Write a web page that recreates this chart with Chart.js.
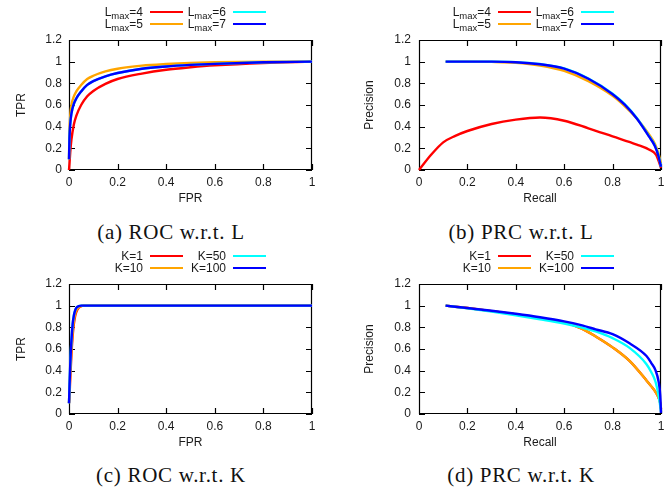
<!DOCTYPE html>
<html>
<head>
<meta charset="utf-8">
<script src="https://cdn.jsdelivr.net/npm/chart.js@4.4.1/dist/chart.umd.min.js"></script>
<style>
  body { margin: 0; background: #fff; }
  #fig { position: relative; width: 672px; height: 490px; overflow: hidden; font-family: "Liberation Sans", Arial, sans-serif; color: #1a1a1a; }
  canvas { position: absolute; }
  .key { position: absolute; font-size: 12px; line-height: 14px; white-space: nowrap; }
  .key sub { font-size: 9.5px; line-height: 0; vertical-align: -3px; }
  .swatch { position: absolute; height: 2px; width: 33px; }
  .cap { position: absolute; width: 336px; text-align: center; font-family: "Liberation Serif", serif; font-size: 21px; line-height: 24px; letter-spacing: 0.7px; color: #111; }
</style>
</head>
<body>
<div id="fig"></div>
<script>
// tick values shared by all four panels
const xTickValues = [0, 0.2, 0.4, 0.6, 0.8, 1];
const yTickValues = [0, 0.2, 0.4, 0.6, 0.8, 1, 1.2];

const seriesColors = ['#ff0000', '#ffa500', '#00ffff', '#0000ff'];
const lValues = [4, 5, 6, 7];
const kValues = [1, 10, 50, 100];

// (a) ROC w.r.t. L
const rocLFpr = [0, 0.002, 0.005, 0.01, 0.02, 0.03, 0.05, 0.075, 0.1, 0.15, 0.2, 0.3, 0.4, 0.5, 0.6, 0.8, 1];
const rocL4 = [0, 0.06, 0.16, 0.28, 0.42, 0.50, 0.60, 0.68, 0.73, 0.795, 0.84, 0.89, 0.925, 0.948, 0.966, 0.988, 1];
const rocL5 = [0.1, 0.36, 0.5, 0.6, 0.68, 0.725, 0.785, 0.84, 0.87, 0.91, 0.935, 0.963, 0.978, 0.988, 0.994, 0.999, 1];
const rocL6 = [0.1, 0.3, 0.42, 0.52, 0.61, 0.66, 0.725, 0.785, 0.82, 0.865, 0.895, 0.935, 0.956, 0.97, 0.98, 0.994, 1];
const rocL7 = [0.1, 0.3, 0.42, 0.52, 0.61, 0.66, 0.725, 0.785, 0.82, 0.865, 0.895, 0.935, 0.956, 0.97, 0.98, 0.994, 1];

// (b) PRC w.r.t. L
const prcL4Recall = [0, 0.05, 0.1, 0.15, 0.2, 0.3, 0.4, 0.5, 0.6, 0.7, 0.8, 0.9, 0.95, 0.98, 1];
const prcL4 = [0, 0.14, 0.255, 0.315, 0.36, 0.425, 0.465, 0.485, 0.455, 0.385, 0.31, 0.235, 0.19, 0.14, 0.02];
const prcLRecall = [0.11, 0.2, 0.3, 0.4, 0.5, 0.6, 0.7, 0.8, 0.85, 0.9, 0.95, 0.975, 0.99, 1];
const prcL5 = [1, 1, 0.998, 0.99, 0.965, 0.915, 0.82, 0.685, 0.59, 0.475, 0.33, 0.24, 0.15, 0.06];
const prcL6 = [1, 1, 1, 0.996, 0.978, 0.938, 0.845, 0.705, 0.608, 0.48, 0.315, 0.225, 0.13, 0.03];
const prcL7 = [1, 1, 1, 0.995, 0.976, 0.935, 0.842, 0.70, 0.603, 0.475, 0.31, 0.22, 0.125, 0.03];

// (c) ROC w.r.t. K
const rocKFpr = [0, 0.002, 0.005, 0.01, 0.015, 0.02, 0.025, 0.03, 0.04, 0.05, 0.06, 0.1, 0.5, 1];
const rocK1 = [0.1, 0.16, 0.32, 0.55, 0.72, 0.83, 0.9, 0.94, 0.98, 0.995, 1, 1, 1, 1];
const rocK10 = [0.1, 0.2, 0.38, 0.6, 0.76, 0.86, 0.92, 0.955, 0.985, 0.997, 1, 1, 1, 1];
const rocK50 = [0.1, 0.25, 0.45, 0.68, 0.83, 0.91, 0.955, 0.98, 0.995, 1, 1, 1, 1, 1];
const rocK100 = [0.1, 0.25, 0.45, 0.68, 0.83, 0.91, 0.955, 0.98, 0.995, 1, 1, 1, 1, 1];

// (d) PRC w.r.t. K
const prcKRecall = [0.11, 0.2, 0.3, 0.4, 0.5, 0.6, 0.67, 0.73, 0.8, 0.87, 0.94, 0.96, 0.977, 0.99, 0.997, 1];
const prcK1 = [1, 0.978, 0.95, 0.92, 0.885, 0.845, 0.79, 0.716, 0.615, 0.49, 0.31, 0.255, 0.205, 0.15, 0.1, 0.05];
const prcK10 = [1, 0.978, 0.95, 0.92, 0.885, 0.845, 0.79, 0.716, 0.615, 0.49, 0.31, 0.255, 0.205, 0.15, 0.1, 0.05];
const prcK50 = [1, 0.975, 0.945, 0.912, 0.875, 0.835, 0.80, 0.762, 0.70, 0.61, 0.46, 0.385, 0.30, 0.17, 0.07, 0.02];
const prcK100 = [1, 0.978, 0.953, 0.925, 0.893, 0.855, 0.82, 0.782, 0.737, 0.652, 0.535, 0.47, 0.405, 0.30, 0.17, 0.01];

Chart.defaults.font.family = '"Liberation Sans", Arial, sans-serif';
Chart.defaults.font.size = 12;
Chart.defaults.color = '#1a1a1a';

// gnuplot style box with inward ticks on all four sides
const frame = {
    id: 'frame',
    beforeDatasetsDraw(chart) {
        const { ctx, chartArea: a, scales } = chart;
        const tick = 6;
        ctx.save();
        ctx.strokeStyle = '#000';
        ctx.lineWidth = 1.2;
        ctx.beginPath();
        ctx.rect(a.left + 0.5, a.top + 0.5, a.right - a.left - 1, a.bottom - a.top - 1);
        xTickValues.forEach(v => {
            const px = Math.round(scales.x.getPixelForValue(v)) + 0.5;
            ctx.moveTo(px, a.bottom); ctx.lineTo(px, a.bottom - tick);
            ctx.moveTo(px, a.top); ctx.lineTo(px, a.top + tick);
        });
        yTickValues.forEach(v => {
            const py = Math.round(scales.y.getPixelForValue(v)) + 0.5;
            ctx.moveTo(a.left, py); ctx.lineTo(a.left + tick, py);
            ctx.moveTo(a.right, py); ctx.lineTo(a.right - tick, py);
        });
        ctx.stroke();
        ctx.restore();
    }
};

const tickText = v => String(Math.round(v * 10) / 10);

const panels = [
    { x: 0, y: 0, yW: 69, padR: 24, tickPad: 7, yTitlePad: 14, xTitle: 'FPR', yTitle: 'TPR', caption: '(a) ROC w.r.t. L', capX: 171, capY: 232,
      name: 'L', values: lValues, xs: [rocLFpr, rocLFpr, rocLFpr, rocLFpr], ys: [rocL4, rocL5, rocL6, rocL7] },
    { x: 336, y: 0, yW: 83, padR: 11, tickPad: 8, yTitlePad: 26, xTitle: 'Recall', yTitle: 'Precision', caption: '(b) PRC w.r.t. L', capX: 185, capY: 232,
      name: 'L', values: lValues, xs: [prcL4Recall, prcLRecall, prcLRecall, prcLRecall], ys: [prcL4, prcL5, prcL6, prcL7] },
    { x: 0, y: 244, yW: 69, padR: 24, tickPad: 7, yTitlePad: 14, xTitle: 'FPR', yTitle: 'TPR', caption: '(c) ROC w.r.t. K', capX: 171, capY: 475,
      name: 'K', values: kValues, xs: [rocKFpr, rocKFpr, rocKFpr, rocKFpr], ys: [rocK1, rocK10, rocK50, rocK100] },
    { x: 336, y: 244, yW: 83, padR: 11, tickPad: 8, yTitlePad: 26, xTitle: 'Recall', yTitle: 'Precision', caption: '(d) PRC w.r.t. K', capX: 185, capY: 475,
      name: 'K', values: kValues, xs: [prcKRecall, prcKRecall, prcKRecall, prcKRecall], ys: [prcK1, prcK10, prcK50, prcK100] }
];

const fig = document.getElementById('fig');

const makePanel = (p) => {
    const canvas = document.createElement('canvas');
    canvas.width = 336;
    canvas.height = 215;
    canvas.style.left = p.x + 'px';
    canvas.style.top = p.y + 'px';
    fig.appendChild(canvas);

    const datasets = p.values.map((v, i) => ({
        label: p.name === 'L' ? 'Lmax=' + v : 'K=' + v,
        data: p.xs[i].map((x, j) => ({ x: x, y: p.ys[i][j] })),
        showLine: true,
        borderColor: seriesColors[i],
        borderWidth: 2.4,
        pointRadius: 0,
        cubicInterpolationMode: 'monotone',
        order: 3 - i,
        clip: 4
    }));

    new Chart(canvas, {
        type: 'scatter',
        data: { datasets: datasets },
        options: {
            responsive: false,
            animation: false,
            layout: { padding: { left: 0, right: p.padR, top: 40, bottom: 0 } },
            plugins: { legend: { display: false }, tooltip: { enabled: false } },
            scales: {
                x: {
                    type: 'linear', min: 0, max: 1,
                    afterBuildTicks: s => { s.ticks = xTickValues.map(v => ({ value: v })); },
                    afterFit: s => { s.height = 45; },
                    grid: { display: false, drawTicks: false },
                    border: { display: false },
                    ticks: { padding: 5, maxRotation: 0, autoSkip: false, callback: tickText },
                    title: { display: true, text: p.xTitle, padding: { top: 0, bottom: 9 } }
                },
                y: {
                    type: 'linear', min: 0, max: 1.2,
                    afterBuildTicks: s => { s.ticks = yTickValues.map(v => ({ value: v })); },
                    afterFit: s => { s.width = p.yW; },
                    grid: { display: false, drawTicks: false },
                    border: { display: false },
                    ticks: { padding: p.tickPad, autoSkip: false, callback: tickText },
                    title: { display: true, text: p.yTitle, padding: { top: p.yTitlePad, bottom: 0 } }
                }
            }
        },
        plugins: [frame]
    });

    // two-column key, text on the left of each sample line (column-major)
    const textRight = p.x === 0 ? [143, 226] : [155, 238];
    const rowY = [12, 24];
    p.values.forEach((v, i) => {
        const col = Math.floor(i / 2);
        const row = i % 2;
        const label = document.createElement('div');
        label.className = 'key';
        label.innerHTML = p.name === 'L' ? 'L<sub>max</sub>=' + v : 'K=' + v;
        label.style.right = (672 - (p.x + textRight[col])) + 'px';
        label.style.top = (p.y + rowY[row] - 7) + 'px';
        fig.appendChild(label);

        const line = document.createElement('div');
        line.className = 'swatch';
        line.style.background = seriesColors[i];
        line.style.left = (p.x + textRight[col] + 7) + 'px';
        line.style.top = (p.y + rowY[row] - 1) + 'px';
        fig.appendChild(line);
    });

    const cap = document.createElement('div');
    cap.className = 'cap';
    cap.textContent = p.caption;
    cap.style.left = (p.x + p.capX - 168) + 'px';
    cap.style.top = (p.capY - 12) + 'px';
    fig.appendChild(cap);
};

panels.forEach(makePanel);
</script>
</body>
</html>
